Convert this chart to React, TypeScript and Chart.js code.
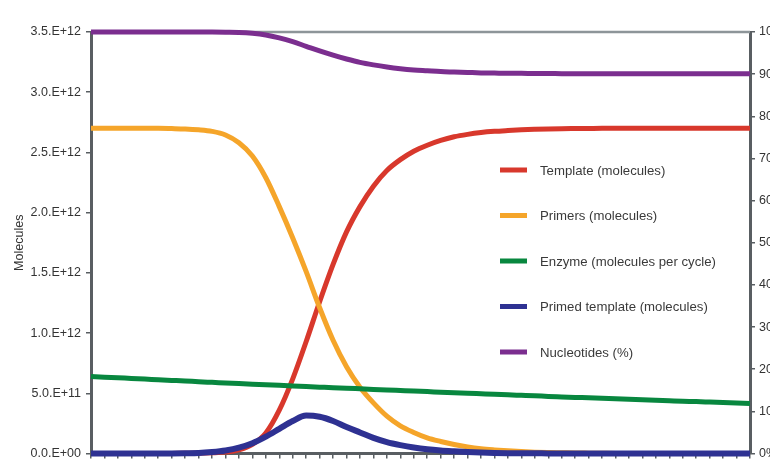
import React, { useEffect, useRef } from "react";
import { Chart, registerables } from "chart.js";

Chart.register(...registerables);

const cycles = Array.from({ length: 50 }, (_, i) => String(i + 1));

// values in units of 1e12 molecules
const template = [
  0, 0, 0, 0, 0, 0.001, 0.001, 0.002, 0.003, 0.006,
  0.012, 0.03, 0.075, 0.17, 0.36, 0.62, 0.93, 1.26, 1.57, 1.84,
  2.05, 2.22, 2.35, 2.44, 2.51, 2.56, 2.6, 2.63, 2.65, 2.665,
  2.675, 2.682, 2.688, 2.692, 2.695, 2.697, 2.698, 2.699, 2.7, 2.7,
  2.7, 2.7, 2.7, 2.7, 2.7, 2.7, 2.7, 2.7, 2.7, 2.7,
];
const primers = [
  2.7, 2.7, 2.7, 2.7, 2.7, 2.7, 2.698, 2.695, 2.688, 2.675,
  2.645, 2.58, 2.47, 2.29, 2.05, 1.79, 1.51, 1.21, 0.94, 0.72,
  0.55, 0.42, 0.31, 0.23, 0.175, 0.13, 0.1, 0.075, 0.055, 0.04,
  0.03, 0.022, 0.016, 0.011, 0.008, 0.006, 0.004, 0.003, 0.002, 0.001,
  0.001, 0.001, 0, 0, 0, 0, 0, 0, 0, 0,
];
const enzyme = [
  0.64, 0.634, 0.629, 0.623, 0.618, 0.612, 0.607, 0.602, 0.596, 0.591,
  0.586, 0.581, 0.576, 0.571, 0.566, 0.561, 0.556, 0.551, 0.546, 0.542,
  0.537, 0.532, 0.528, 0.523, 0.518, 0.514, 0.509, 0.505, 0.5, 0.496,
  0.492, 0.487, 0.483, 0.479, 0.474, 0.47, 0.466, 0.462, 0.458, 0.454,
  0.45, 0.446, 0.442, 0.438, 0.434, 0.431, 0.427, 0.423, 0.419, 0.415,
];
const primed = [
  0.001, 0.001, 0.001, 0.001, 0.001, 0.001, 0.001, 0.002, 0.004, 0.012,
  0.025, 0.048, 0.085, 0.14, 0.205, 0.27, 0.315, 0.305, 0.27, 0.22,
  0.175, 0.13, 0.095, 0.07, 0.05, 0.035, 0.025, 0.018, 0.012, 0.008,
  0.005, 0.003, 0.002, 0.002, 0.001, 0.001, 0.001, 0.001, 0.001, 0.001,
  0.001, 0.001, 0.001, 0.001, 0.001, 0.001, 0.001, 0.001, 0.001, 0.001,
];
// percent
const nucleotides = [
  100, 100, 100, 100, 100, 100, 100, 100, 100, 99.98,
  99.95, 99.9, 99.7, 99.3, 98.6, 97.7, 96.6, 95.5, 94.5, 93.6,
  92.8, 92.2, 91.7, 91.3, 91.0, 90.8, 90.6, 90.5, 90.4, 90.3,
  90.25, 90.2, 90.2, 90.15, 90.15, 90.1, 90.1, 90.1, 90.1, 90.1,
  90.1, 90.1, 90.1, 90.1, 90.1, 90.1, 90.1, 90.1, 90.1, 90.1,
];

const leftTickLabels = [
  "0.0.E+00", "5.0.E+11", "1.0.E+12", "1.5.E+12",
  "2.0.E+12", "2.5.E+12", "3.0.E+12", "3.5.E+12",
];
const rightTickLabels = [
  "0%", "10%", "20%", "30%", "40%", "50%", "60%", "70%", "80%", "90%", "100%",
];

const seriesLabels = [
  "Template (molecules)",
  "Primers (molecules)",
  "Enzyme (molecules per cycle)",
  "Primed template (molecules)",
  "Nucleotides (%)",
];
const seriesColors = ["#d8382c", "#f5a52a", "#08873f", "#2e3192", "#7b2e8f"];

const FONT = "'Liberation Sans', Arial, sans-serif";
const AXIS_COLOR = "#595e62";

const topBorderPlugin = {
  id: "topBorder",
  beforeDatasetsDraw(chart: any) {
    const { ctx, chartArea } = chart;
    ctx.save();
    ctx.strokeStyle = "#8d9599";
    ctx.lineWidth = 2.5;
    ctx.beginPath();
    ctx.moveTo(chartArea.left, chartArea.top);
    ctx.lineTo(chartArea.right, chartArea.top);
    ctx.stroke();
    ctx.restore();
  },
};

const innerLegendPlugin = {
  id: "innerLegend",
  afterDraw(chart: any) {
    const { ctx, chartArea } = chart;
    const x0 = chartArea.left + 409;
    const y0 = chartArea.top + 138;
    const gap = 45.5;
    ctx.save();
    ctx.font = `13.2px ${FONT}`;
    ctx.textBaseline = "middle";
    chart.data.datasets.forEach((ds: any, i: number) => {
      const y = y0 + i * gap;
      ctx.fillStyle = ds.borderColor;
      ctx.fillRect(x0, y - 2.5, 27, 5);
      ctx.fillStyle = "#3a3a3a";
      ctx.fillText(ds.label, x0 + 40, y + 1);
    });
    ctx.restore();
  },
};

export default function App() {
  const ref = useRef<HTMLCanvasElement>(null);
  useEffect(() => {
    if (!ref.current) return;
    const data = [template, primers, enzyme, primed, nucleotides];
    const chart = new Chart(ref.current, {
      type: "line",
      data: {
        labels: cycles,
        datasets: data.map((d, i) => ({
          label: seriesLabels[i],
          data: d,
          borderColor: seriesColors[i],
          backgroundColor: seriesColors[i],
          borderWidth: i === 3 ? 6 : 5,
          pointRadius: 0,
          cubicInterpolationMode: "monotone" as const,
          yAxisID: i === 4 ? "y2" : "y",
          order: 5 - i,
          clip: false as any,
        })),
      },
      options: {
        animation: false,
        responsive: false,
        events: [],
        layout: { padding: { top: 32, left: 0, right: 0, bottom: 0 } },
        plugins: { legend: { display: false }, tooltip: { enabled: false } },
        scales: {
          x: {
            type: "category",
            offset: false,
            grid: {
              display: true,
              drawOnChartArea: false,
              drawTicks: true,
              tickLength: 5,
              color: AXIS_COLOR,
              lineWidth: 1.5,
            },
            border: { display: true, color: AXIS_COLOR, width: 3 },
            ticks: { display: false },
            afterFit(scale: any) {
              scale.height = 12;
            },
          },
          y: {
            position: "left",
            min: 0,
            max: 3.5,
            ticks: {
              stepSize: 0.5,
              padding: 5,
              color: "#333",
              font: { family: FONT, size: 12.5 },
              callback: (_v: any, idx: number) => leftTickLabels[idx],
            },
            grid: {
              drawOnChartArea: false,
              drawTicks: true,
              tickLength: 5,
              color: AXIS_COLOR,
              lineWidth: 1.5,
            },
            border: { display: true, color: AXIS_COLOR, width: 3 },
            title: {
              display: true,
              text: "Molecules",
              color: "#333",
              font: { family: FONT, size: 12.5 },
              padding: { top: 12, bottom: 0 },
            },
            afterFit(scale: any) {
              scale.width = 91;
            },
          },
          y2: {
            position: "right",
            min: 0,
            max: 100,
            ticks: {
              stepSize: 10,
              padding: 4,
              color: "#333",
              font: { family: FONT, size: 12.5 },
              callback: (_v: any, idx: number) => rightTickLabels[idx],
            },
            grid: {
              drawOnChartArea: false,
              drawTicks: true,
              tickLength: 5,
              color: AXIS_COLOR,
              lineWidth: 1.5,
            },
            border: { display: true, color: AXIS_COLOR, width: 3 },
            afterFit(scale: any) {
              scale.width = 20;
            },
          },
        },
      },
      plugins: [topBorderPlugin, innerLegendPlugin],
    });
    return () => chart.destroy();
  }, []);
  return (
    <div style={{ position: "fixed", left: 0, top: 0, width: 770, height: 466, background: "#fff" }}>
      <canvas ref={ref} width={770} height={466} style={{ display: "block" }} />
    </div>
  );
}
